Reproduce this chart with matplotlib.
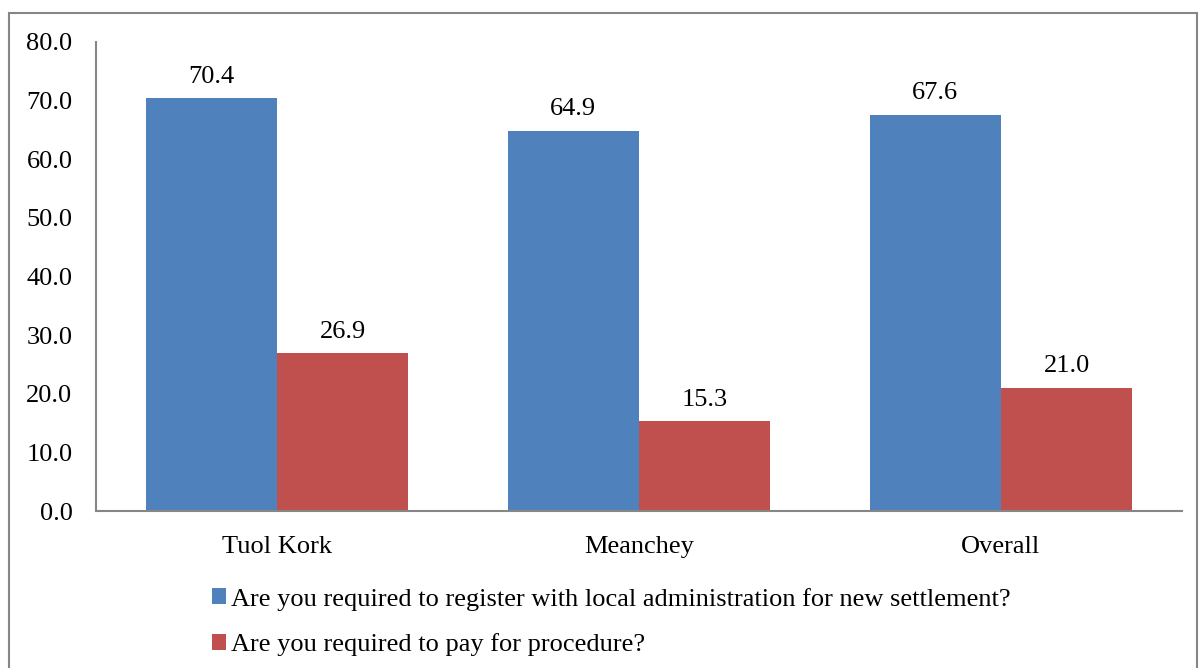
import matplotlib
matplotlib.use("Agg")
import matplotlib.pyplot as plt
import numpy as np
from matplotlib.patches import Rectangle

categories = ["Tuol Kork", "Meanchey", "Overall"]
register = [70.4, 64.9, 67.6]
pay = [26.9, 15.3, 21.0]
series_names = [
    "Are you required to register with local administration for new settlement?",
    "Are you required to pay for procedure?",
]
yticks = [0, 10, 20, 30, 40, 50, 60, 70, 80]

plt.rcParams['font.family'] = ['Liberation Serif', 'DejaVu Serif']
fs = 19

fig = plt.figure(figsize=(11.99, 6.68), dpi=100)
ax = fig.add_axes([96 / 1199, 1 - 511 / 668, (1182 - 96) / 1199, (511 - 42) / 668])

x = np.arange(len(categories))
w = 0.363
b1 = ax.bar(x - w / 2, register, w, color="#4f81bd", label=series_names[0])
b2 = ax.bar(x + w / 2, pay, w, color="#c0504d", label=series_names[1])

for bars in (b1, b2):
    for r in bars:
        ax.annotate("%.1f" % r.get_height(), (r.get_x() + r.get_width() / 2, r.get_height()),
                    xytext=(0, 7.5), textcoords="offset points", ha="center", va="bottom",
                    fontsize=fs)

ax.set_xlim(-0.5, 2.5)
ax.set_ylim(0, 80)
ax.set_yticks(yticks)
ax.set_yticklabels(["%.1f" % t for t in yticks])
ax.set_xticks(x)
ax.set_xticklabels(categories)
ax.tick_params(axis="y", length=0, pad=17, labelsize=fs)
ax.tick_params(axis="x", length=0, pad=18, labelsize=fs)
for s in ("top", "right"):
    ax.spines[s].set_visible(False)
for s in ("left", "bottom"):
    ax.spines[s].set_color("#868686")
    ax.spines[s].set_linewidth(1.5)

leg = fig.legend(handles=[b1, b2], loc="upper left", bbox_to_anchor=(201 / 1199, 1 - 577 / 668),
                 frameon=False, fontsize=fs, handlelength=0.55, handleheight=0.55,
                 handletextpad=0.2, labelspacing=0.86, borderaxespad=0)

fig.patches.append(Rectangle((9 / 1199, -0.05), (1197 - 9) / 1199, 1.05 - 13 / 668,
                             transform=fig.transFigure, fill=False, edgecolor="#868686",
                             linewidth=1.5, clip_on=False))

fig.savefig("out.png", dpi=100)
